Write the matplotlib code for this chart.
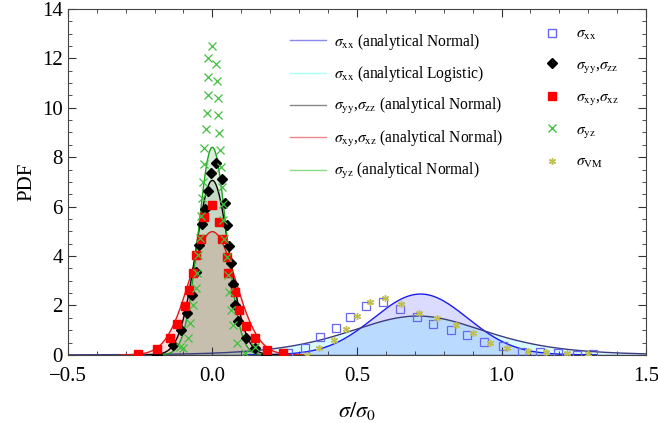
"""Stress component PDFs: analytical fits vs. simulated histograms."""
import matplotlib
matplotlib.use("Agg")
import matplotlib.pyplot as plt
import numpy as np
from matplotlib.lines import Line2D

plt.rcParams["font.family"] = ["Liberation Serif", "DejaVu Serif"]
plt.rcParams["mathtext.fontset"] = "stix"

# analytical fits: (mean, std) for Normal, (mean, scale) for Logistic
XX_NORMAL = (0.72, 0.162)
XX_LOGISTIC = (0.71, 0.159)
YY_NORMAL = (0.0, 0.0565)
XY_NORMAL = (0.0, 0.080)
YZ_NORMAL = (0.0, 0.0475)

# simulated histogram points
xx_x = [0.26, 0.32, 0.372, 0.427, 0.477, 0.53, 0.591, 0.648, 0.707, 0.762,
        0.825, 0.882, 0.941, 1.005, 1.069, 1.132, 1.196, 1.26, 1.317]
xx_y = [0.07, 0.27, 0.72, 1.08, 1.53, 1.97, 2.14, 1.85, 1.53, 1.25,
        1.0, 0.79, 0.54, 0.36, 0.13, 0.11, 0.07, 0.0, 0.04]

yy_x = [-0.19, -0.136, -0.107, -0.086, -0.07, -0.057, -0.047, -0.035, -0.026,
        -0.016, -0.006, 0.013, 0.033, 0.044, 0.05, 0.056, 0.063, 0.07, 0.078,
        0.09, 0.117, 0.147, 0.187]
yy_y = [0.0, 0.42, 0.99, 1.69, 2.43, 3.35, 4.45, 5.28, 5.92, 6.64, 7.36, 7.76,
        7.11, 6.14, 5.24, 4.41, 3.72, 2.88, 2.02, 1.37, 0.7, 0.29, 0.0]

xy_x = [-0.257, -0.193, -0.147, -0.122, -0.095, -0.080, -0.066, -0.057,
        -0.041, -0.028, 0.0, 0.024, 0.033, 0.049, 0.055, 0.078, 0.092, 0.115,
        0.149, 0.19, 0.245]
xy_y = [0.04, 0.24, 0.68, 1.24, 1.98, 2.63, 3.33, 4.05, 4.7, 5.57, 6.07, 5.39,
        4.68, 3.96, 3.31, 2.56, 1.82, 1.17, 0.68, 0.2, 0.08]

yz_x = [-0.112, -0.103, -0.084, -0.078, -0.066, -0.058, -0.054, -0.051,
        -0.043, -0.040, -0.036, -0.034, -0.030, -0.028, -0.0225, -0.020,
        -0.0145, -0.016, -0.0145, -0.001, 0.011, 0.0145, 0.018, 0.020, 0.0235,
        0.027, 0.029, 0.033, 0.036, 0.037, 0.041, 0.049, 0.053, 0.057, 0.064,
        0.072, 0.086, 0.112, 0.147]
yz_y = [0.30, 0.27, 0.68, 1.29, 2.02, 2.70, 3.31, 4.05, 4.73, 5.63, 6.35,
        7.01, 7.72, 8.39, 9.14, 9.79, 10.52, 11.25, 12.02, 12.51, 11.77, 11.08,
        10.40, 9.71, 8.98, 8.30, 7.60, 6.81, 6.11, 5.47, 4.69, 3.98, 3.24, 2.56,
        1.82, 1.21, 0.48, 0.08, 0.33]

vm_x = [0.326, 0.37, 0.42, 0.463, 0.5, 0.546, 0.598, 0.653, 0.714, 0.778,
        0.842, 0.902, 0.96, 1.02, 1.091, 1.152, 1.226, 1.30]
vm_y = [0.0, 0.27, 0.61, 1.04, 1.59, 2.16, 2.3, 2.05, 1.71, 1.51, 1.21, 0.88,
        0.5, 0.29, 0.17, 0.13, 0.07, 0.03]


def normal(x, mu, sd):
    return np.exp(-0.5 * ((x - mu) / sd) ** 2) / (sd * np.sqrt(2 * np.pi))


def logistic(x, mu, s):
    e = np.exp(-(x - mu) / s)
    return e / (s * (1 + e) ** 2)


fig = plt.figure(figsize=(6.58, 4.23), dpi=100)
ax = fig.add_axes([0.103, 0.161, 0.879, 0.818])

x = np.linspace(-0.5, 1.5, 2001)
curves = [
    (normal(x, *XX_NORMAL), "#1a1af0", "#0000ff", 0.14),
    (logistic(x, *XX_LOGISTIC), "#3c3c80", "#00e0ff", 0.15),
    (normal(x, *XY_NORMAL), "#e01818", "#ff2020", 0.15),
    (normal(x, *YY_NORMAL), "#000000", "#000000", 0.10),
    (normal(x, *YZ_NORMAL), "#20a020", "#40a040", 0.18),
]
for y, lc, fc, a in curves:
    ax.fill_between(x, 0, y, color=fc, alpha=a, linewidth=0, zorder=1)
    # skip the flat tails so the baseline is not painted over
    ax.plot(x, np.where(y > 2e-3, y, np.nan), color=lc, linewidth=1.0,
            zorder=2)
ax.axhline(0, color="#3c3c80", linewidth=1.0, zorder=1.5)

VM_MARK = (6, 2, 0)  # asterisk
ax.plot(xx_x, xx_y, "s", mfc="none", mec="#6666ee", mew=0.9, ms=5.5, zorder=3)
ax.plot(yy_x, yy_y, "D", color="black", ms=4.8, zorder=4)
ax.plot(xy_x, xy_y, "s", color="#ff0000", ms=5.8, zorder=5)
ax.plot(yz_x, yz_y, "x", color="#40c040", mew=0.9, ms=5.5, zorder=6)
ax.plot(vm_x, vm_y, ls="none", marker=VM_MARK, color="#c0c050", mew=1.0,
        ms=5, zorder=6)

ax.set_xlim(-0.5, 1.5)
ax.set_ylim(0, 14)
ax.set_xticks([-0.5, 0.0, 0.5, 1.0, 1.5])
ax.set_xticklabels(["\u22120.5", "0.0", "0.5", "1.0", "1.5"])
ax.set_xticks(np.arange(-0.5, 1.51, 0.1), minor=True)
ax.set_yticks(np.arange(0, 15, 2))
ax.set_yticks(np.arange(0, 14.1, 0.5), minor=True)
ax.tick_params(which="both", direction="in", top=True, right=True,
               labelsize=15, colors="#333333", labelcolor="black")
ax.tick_params(which="major", length=6)
ax.tick_params(which="minor", length=3)
ax.tick_params(axis="x", which="major", pad=9)
for s in ax.spines.values():
    s.set_color("#444444")
ax.set_xlabel(r"$\sigma/\sigma_0$", fontsize=16, labelpad=10)
ax.set_ylabel("PDF", fontsize=15)

line_handles = [Line2D([], [], color=c, lw=1.0) for c in
                ["#8888ee", "#aaffff", "#888888", "#ee8888", "#88dd88"]]
line_labels = [r"$\sigma_{\rm xx}$ (analytical Normal)",
               r"$\sigma_{\rm xx}$ (analytical Logistic)",
               r"$\sigma_{\rm yy}$,$\sigma_{\rm zz}$ (analytical Normal)",
               r"$\sigma_{\rm xy}$,$\sigma_{\rm xz}$ (analytical Normal)",
               r"$\sigma_{\rm yz}$ (analytical Normal)"]
leg1 = ax.legend(line_handles, line_labels, loc="upper left",
                 bbox_to_anchor=(0.36, 0.975), frameon=False, fontsize=11.2,
                 handlelength=2.3, handletextpad=0.5, labelspacing=0.8)
ax.add_artist(leg1)

mk_handles = [
    Line2D([], [], ls="none", marker="s", mfc="none", mec="#6666ee", ms=5.5),
    Line2D([], [], ls="none", marker="D", color="black", ms=5),
    Line2D([], [], ls="none", marker="s", color="#ff0000", ms=6),
    Line2D([], [], ls="none", marker="x", color="#40c040", ms=6),
    Line2D([], [], ls="none", marker=VM_MARK, color="#c0c050", ms=5),
]
mk_labels = [r"$\sigma_{\rm xx}$", r"$\sigma_{\rm yy}$,$\sigma_{\rm zz}$",
             r"$\sigma_{\rm xy}$,$\sigma_{\rm xz}$", r"$\sigma_{\rm yz}$",
             r"$\sigma_{\rm VM}$"]
ax.legend(mk_handles, mk_labels, loc="upper left",
          bbox_to_anchor=(0.80, 0.99), frameon=False, fontsize=11.2,
          handlelength=1.0, handletextpad=1.0, labelspacing=0.92)

fig.savefig("out.png", dpi=100)
